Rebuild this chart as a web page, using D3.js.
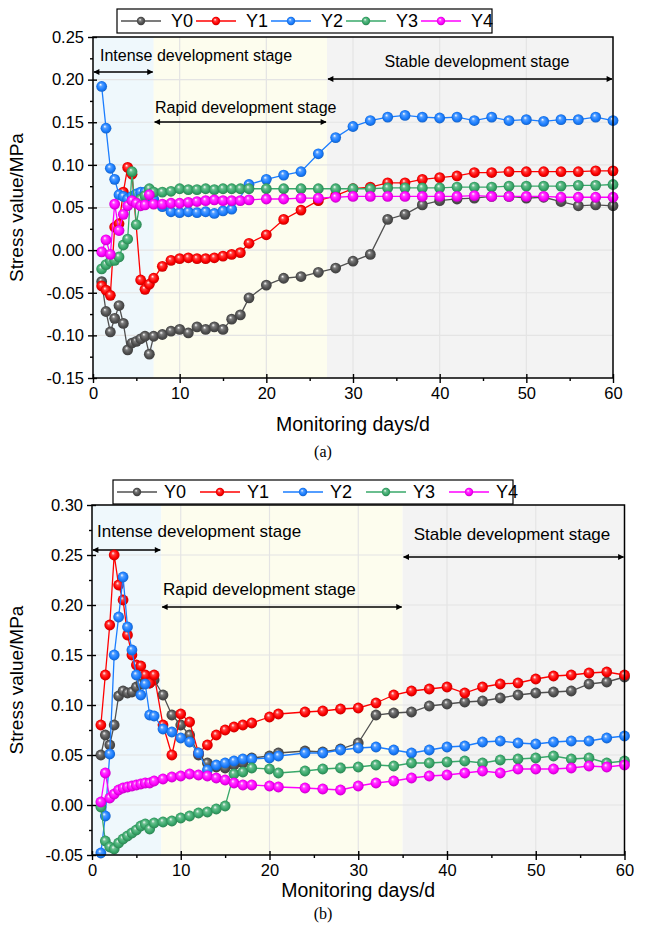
<!DOCTYPE html>
<html>
<head>
<meta charset="utf-8">
<script src="https://cdn.jsdelivr.net/npm/d3@7"></script>
<style>
  body { margin: 0; background: #fff; }
  svg { display: block; }
  text { font-family: "Liberation Sans", Arial, sans-serif; fill: #000; }
</style>
</head>
<body>
<svg id="chart" width="646" height="929"></svg>
<script>
// series names + colours
const seriesNames = ["Y0", "Y1", "Y2", "Y3", "Y4"];
const seriesColors = ["#505050", "#ff0000", "#1a7dff", "#38a86a", "#ff00ff"];
const stageNames = ["Intense development stage", "Rapid development stage", "Stable development stage"];

// chart (a)
const daysA = [1, 1.5, 2, 2.5, 3, 3.5, 4, 4.5, 5, 5.5, 6, 6.5, 7, 8, 9, 10, 11, 12, 13, 14, 15, 16, 17, 18,
  20, 22, 24, 26, 28, 30, 32, 34, 36, 38, 40, 42, 44, 46, 48, 50, 52, 54, 56, 58, 60];
const y0A = [-0.037, -0.072, -0.096, -0.080, -0.065, -0.086, -0.117, -0.109, -0.107, -0.104, -0.101, -0.122, -0.101,
  -0.099, -0.095, -0.093, -0.097, -0.090, -0.093, -0.090, -0.093, -0.081, -0.076, -0.056,
  -0.041, -0.033, -0.031, -0.026, -0.021, -0.013, -0.005, 0.036, 0.042, 0.053, 0.058, 0.060, 0.061, 0.063, 0.063,
  0.061, 0.062, 0.057, 0.052, 0.053, 0.052];
const y1A = [-0.042, -0.047, -0.053, 0.027, 0.031, 0.068, 0.097, 0.089, null, -0.035, -0.046, -0.040, -0.033,
  -0.019, -0.012, -0.010, -0.009, -0.010, -0.010, -0.009, -0.007, -0.005, -0.003, 0.008,
  0.018, 0.036, 0.047, 0.058, 0.064, 0.072, 0.074, 0.079, 0.079, 0.083, 0.085, 0.087, 0.091, 0.091, 0.092,
  0.092, 0.092, 0.092, 0.092, 0.093, 0.093];
const y2A = [0.192, 0.143, 0.096, 0.083, 0.065, 0.063, 0.060, 0.063, 0.066, 0.068, 0.068, 0.064, 0.060,
  0.051, 0.045, 0.044, 0.045, 0.044, 0.045, 0.043, 0.046, 0.048, null, 0.077,
  0.083, 0.088, 0.092, 0.113, 0.132, 0.145, 0.152, 0.156, 0.158, 0.156, 0.155, 0.156, 0.152, 0.156, 0.152,
  0.153, 0.151, 0.153, 0.153, 0.156, 0.152];
const y3A = [-0.022, -0.017, -0.013, -0.012, -0.008, 0.006, 0.013, 0.092, 0.030, 0.060, 0.064, 0.072, 0.068,
  0.068, 0.069, 0.072, 0.071, 0.071, 0.072, 0.071, 0.072, 0.072, 0.072, 0.072,
  0.072, 0.072, 0.072, 0.072, 0.072, 0.072, 0.072, 0.073, 0.073, 0.073, 0.073, 0.074, 0.074, 0.074, 0.075,
  0.075, 0.075, 0.075, 0.076, 0.076, 0.077];
const y4A = [-0.002, 0.012, -0.005, 0.054, 0.023, 0.042, 0.052, 0.058, 0.055, 0.052, 0.053, 0.065, 0.054,
  0.054, 0.055, 0.055, 0.056, 0.057, 0.058, 0.059, 0.058, 0.058, 0.058, 0.059,
  0.060, 0.060, 0.061, 0.061, 0.062, 0.063, 0.063, 0.063, 0.063, 0.063, 0.063, 0.063, 0.064, 0.063, 0.063,
  0.063, 0.063, 0.062, 0.062, 0.062, 0.062];
const stagesA = [0, 7, 27, 60];

// chart (b)
const daysB = [1, 1.5, 2, 2.5, 3, 3.5, 4, 4.5, 5, 5.5, 6, 6.5, 7, 8, 9, 10, 11, 12, 13, 14, 15, 16, 17, 18,
  20, 21, 24, 26, 28, 30, 32, 34, 36, 38, 40, 42, 44, 46, 48, 50, 52, 54, 56, 58, 60];
const y0B = [0.050, 0.070, 0.060, 0.080, 0.109, 0.114, 0.112, 0.113, 0.118, 0.121, 0.123, 0.122, 0.125,
  0.110, 0.090, 0.080, 0.070, 0.050, 0.042, 0.038, 0.037, 0.040, 0.042, 0.047,
  0.049, 0.052, 0.054, 0.053, 0.056, 0.062, 0.090, 0.092, 0.093, 0.099, 0.101, 0.103, 0.104, 0.107, 0.110,
  0.112, 0.113, 0.114, 0.121, 0.123, 0.128];
const y1B = [0.080, 0.130, 0.180, 0.250, 0.220, 0.205, 0.170, 0.150, 0.140, 0.139, 0.130, 0.122, 0.130,
  0.080, 0.050, 0.091, 0.083, 0.052, 0.060, 0.070, 0.075, 0.078, 0.080, 0.082,
  0.088, 0.091, 0.093, 0.094, 0.096, 0.097, 0.102, 0.110, 0.114, 0.116, 0.118, 0.112, 0.118, 0.121, 0.122,
  0.126, 0.129, 0.130, 0.132, 0.133, 0.130];
const y2B = [-0.048, -0.011, 0.051, 0.150, 0.188, 0.228, 0.178, 0.155, 0.130, 0.110, 0.121, 0.090, 0.089,
  0.076, 0.073, 0.067, 0.063, 0.052, 0.035, 0.040, 0.042, 0.044, 0.046, 0.046,
  0.047, 0.049, 0.052, 0.052, 0.055, 0.057, 0.058, 0.055, 0.052, 0.055, 0.058, 0.059, 0.063, 0.064, 0.062,
  0.061, 0.063, 0.064, 0.064, 0.067, 0.069];
const y3B = [-0.002, -0.036, -0.042, -0.044, -0.038, -0.034, -0.031, -0.028, -0.025, -0.021, -0.019, -0.024, -0.018,
  -0.017, -0.016, -0.013, -0.011, -0.008, -0.007, -0.004, -0.001, 0.031, 0.033, 0.037,
  0.036, 0.032, 0.034, 0.036, 0.037, 0.038, 0.040, 0.039, 0.042, 0.042, 0.043, 0.044, 0.042, 0.045, 0.046,
  0.047, 0.049, 0.046, 0.047, 0.042, 0.044];
const y4B = [0.003, 0.032, 0.007, 0.011, 0.015, 0.017, 0.018, 0.019, 0.020, 0.021, 0.022, 0.022, 0.024,
  0.026, 0.028, 0.029, 0.031, 0.030, 0.029, 0.027, 0.025, 0.022, 0.020, 0.020,
  0.019, 0.018, 0.017, 0.016, 0.015, 0.019, 0.022, 0.024, 0.027, 0.029, 0.030, 0.032, 0.034, 0.032, 0.036,
  0.036, 0.036, 0.037, 0.039, 0.038, 0.040];
const stagesB = [0, 7.8, 35, 60];

const stageFills = ["#eff8fc", "#fdfdee", "#f3f3f3"];

const svg = d3.select("#chart");
const defs = svg.append("defs");

// shiny ball markers
seriesColors.forEach(function(c, i) {
  const g = defs.append("radialGradient").attr("id", "ball" + i)
    .attr("cx", "0.5").attr("cy", "0.5").attr("r", "0.55").attr("fx", "0.38").attr("fy", "0.32");
  g.append("stop").attr("offset", "0%").attr("stop-color", "#ffffff");
  g.append("stop").attr("offset", "28%").attr("stop-color", d3.interpolateRgb(c, "#fff")(0.25));
  g.append("stop").attr("offset", "65%").attr("stop-color", c);
  g.append("stop").attr("offset", "100%").attr("stop-color", d3.color(c).darker(0.9));
});

defs.append("marker").attr("id", "arrowhead")
  .attr("viewBox", "0 0 10 10").attr("refX", 9).attr("refY", 5)
  .attr("markerWidth", 9).attr("markerHeight", 6).attr("markerUnits", "userSpaceOnUse")
  .attr("orient", "auto-start-reverse")
  .append("path").attr("d", "M0,0L10,5L0,10Z").attr("fill", "#000");

function drawChart(cfg) {
  const x = d3.scaleLinear().domain([0, 60]).range([cfg.left, cfg.right]);
  const y = d3.scaleLinear().domain(cfg.yDomain).range([cfg.bottom, cfg.top]);
  const g = svg.append("g");

  // stage backgrounds
  g.selectAll("rect.stage").data(d3.range(3)).enter().append("rect")
    .attr("x", function(i) { return x(cfg.stages[i]); })
    .attr("width", function(i) { return x(cfg.stages[i + 1]) - x(cfg.stages[i]); })
    .attr("y", cfg.top).attr("height", cfg.bottom - cfg.top)
    .attr("fill", function(i) { return stageFills[i]; });

  const xMajor = d3.range(0, 61, 10);
  const xMinor = d3.range(5, 60, 10);
  const yMajor = d3.range(0, Math.round((cfg.yDomain[1] - cfg.yDomain[0]) / 0.05) + 1)
    .map(function(k) { return cfg.yDomain[0] + k * 0.05; });
  const yMinor = yMajor.slice(0, -1).map(function(v) { return v + 0.025; });

  // grid
  g.append("g").selectAll("line").data(xMajor.slice(1, -1)).enter().append("line")
    .attr("x1", x).attr("x2", x).attr("y1", cfg.top).attr("y2", cfg.bottom)
    .attr("stroke", "#e4e4e4").attr("stroke-width", 1.2);
  g.append("g").selectAll("line").data(yMajor.slice(1, -1)).enter().append("line")
    .attr("y1", y).attr("y2", y).attr("x1", cfg.left).attr("x2", cfg.right)
    .attr("stroke", "#e4e4e4").attr("stroke-width", 1.2);

  // stage annotations
  cfg.notes.forEach(function(n, i) {
    g.append("line")
      .attr("x1", x(cfg.stages[i]) + 1).attr("x2", x(cfg.stages[i + 1]) - 1)
      .attr("y1", n.arrowY).attr("y2", n.arrowY)
      .attr("stroke", "#000").attr("stroke-width", 1.6)
      .attr("marker-start", "url(#arrowhead)").attr("marker-end", "url(#arrowhead)");
    g.append("text").attr("x", n.textX).attr("y", n.textY)
      .attr("text-anchor", n.anchor || "start")
      .style("font-size", cfg.noteSize + "px").text(stageNames[i]);
  });

  // series
  const line = d3.line()
    .x(function(d) { return x(d[0]); })
    .y(function(d) { return y(d[1]); });
  cfg.series.forEach(function(vals, s) {
    const pts = cfg.days.map(function(d, i) { return [d, vals[i]]; })
      .filter(function(p) { return p[1] !== null; });
    g.append("path").datum(pts).attr("d", line)
      .attr("fill", "none").attr("stroke", seriesColors[s]).attr("stroke-width", 1.3);
    g.append("g").selectAll("circle").data(pts).enter().append("circle")
      .attr("cx", function(d) { return x(d[0]); })
      .attr("cy", function(d) { return y(d[1]); })
      .attr("r", 5.4).attr("fill", "url(#ball" + s + ")");
  });

  // axes
  const fmt = function(v) { return (Math.abs(v) < 1e-9 ? 0 : v).toFixed(2); };
  const ax = function(axis, tr) {
    const a = g.append("g").attr("transform", tr).call(axis);
    a.select(".domain").remove();
    a.selectAll("line").attr("stroke", "#000").attr("stroke-width", 1.4);
    a.selectAll("text").style("font-size", cfg.tickSize + "px")
      .style("font-family", "'Liberation Sans', Arial, sans-serif");
    return a;
  };
  ax(d3.axisLeft(y).tickValues(yMajor).tickFormat(fmt).tickSize(5).tickPadding(4), "translate(" + cfg.left + ",0)");
  ax(d3.axisLeft(y).tickValues(yMajor).tickFormat("").tickSize(-4), "translate(" + cfg.left + ",0)");
  ax(d3.axisLeft(y).tickValues(yMinor).tickFormat("").tickSize(3), "translate(" + cfg.left + ",0)");
  ax(d3.axisBottom(x).tickValues(xMajor).tickFormat(d3.format("d")).tickSize(5).tickPadding(4), "translate(0," + cfg.bottom + ")");
  ax(d3.axisBottom(x).tickValues(xMajor).tickFormat("").tickSize(-4), "translate(0," + cfg.bottom + ")");
  ax(d3.axisBottom(x).tickValues(xMinor).tickFormat("").tickSize(3), "translate(0," + cfg.bottom + ")");

  g.append("rect").attr("x", cfg.left).attr("y", cfg.top)
    .attr("width", cfg.right - cfg.left).attr("height", cfg.bottom - cfg.top)
    .attr("fill", "none").attr("stroke", "#000").attr("stroke-width", 1.5);

  // axis titles
  g.append("text").attr("transform", "translate(" + cfg.yTitleX + "," + (cfg.top + cfg.bottom) / 2 + ") rotate(-90)")
    .attr("text-anchor", "middle").style("font-size", "19px").text("Stress value/MPa");
  g.append("text").attr("x", (cfg.left + cfg.right) / 2).attr("y", cfg.xTitleY)
    .attr("text-anchor", "middle").style("font-size", "19.5px").text("Monitoring days/d");
  g.append("text").attr("x", 323).attr("y", cfg.captionY).attr("text-anchor", "middle")
    .style("font-family", "'Liberation Serif', 'Times New Roman', serif").style("font-size", "16px")
    .text(cfg.caption);

  // legend
  const lg = g.append("g");
  lg.append("rect").attr("x", cfg.legend.x).attr("y", cfg.legend.y)
    .attr("width", cfg.legend.w).attr("height", cfg.legend.h)
    .attr("fill", "#fff").attr("stroke", "#000").attr("stroke-width", 1.2);
  seriesNames.forEach(function(name, s) {
    const ox = cfg.legend.x + 4 + s * cfg.legend.step;
    const cy = cfg.legend.y + cfg.legend.h / 2;
    lg.append("line").attr("x1", ox).attr("x2", ox + 40).attr("y1", cy).attr("y2", cy)
      .attr("stroke", seriesColors[s]).attr("stroke-width", 1.3);
    lg.append("circle").attr("cx", ox + 20).attr("cy", cy).attr("r", 4.2).attr("fill", "url(#ball" + s + ")");
    lg.append("text").attr("x", ox + cfg.legend.gap).attr("y", cy + cfg.legend.fs * 0.36)
      .style("font-size", cfg.legend.fs + "px").text(name);
  });
}

drawChart({
  left: 93, right: 613, top: 37, bottom: 378,
  yDomain: [-0.15, 0.25], days: daysA, series: [y0A, y1A, y2A, y3A, y4A], stages: stagesA,
  tickSize: 16.5, noteSize: 16, yTitleX: 23, xTitleY: 431, captionY: 457, caption: "(a)",
  legend: { x: 117, y: 9, w: 375, h: 24, step: 75, fs: 18, gap: 50 },
  notes: [
    { arrowY: 72, textX: 100, textY: 61 },
    { arrowY: 122, textX: 155, textY: 113 },
    { arrowY: 79, textX: 477, textY: 67, anchor: "middle" }
  ]
});

drawChart({
  left: 92, right: 624.5, top: 505, bottom: 855,
  yDomain: [-0.05, 0.30], days: daysB, series: [y0B, y1B, y2B, y3B, y4B], stages: stagesB,
  tickSize: 16.5, noteSize: 17, yTitleX: 23, xTitleY: 897, captionY: 919, caption: "(b)",
  legend: { x: 113, y: 480, w: 400, h: 24, step: 83, fs: 18, gap: 47 },
  notes: [
    { arrowY: 550, textX: 97, textY: 537 },
    { arrowY: 607, textX: 163, textY: 595 },
    { arrowY: 557, textX: 512, textY: 540, anchor: "middle" }
  ]
});
</script>
</body>
</html>
